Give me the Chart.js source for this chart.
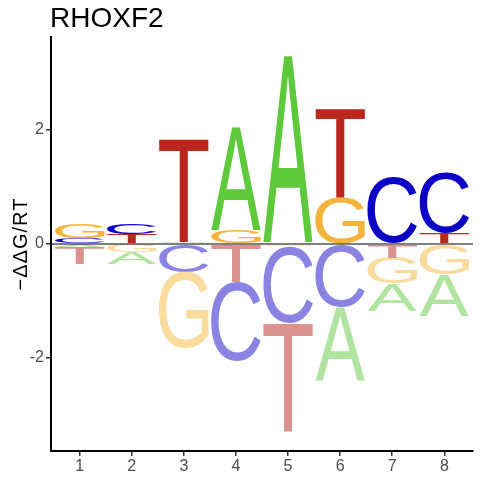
<!DOCTYPE html>
<html><head><meta charset="utf-8">
<script src="https://cdn.jsdelivr.net/npm/chart.js@4.4.1/dist/chart.umd.min.js"></script>
<style>html,body{margin:0;padding:0;background:#fff}canvas{display:block}</style>
</head><body>
<canvas id="c" width="480" height="480"></canvas>
<script>
const chartTitle = 'RHOXF2';
const yTitle = '\u2212\u0394\u0394G/RT';
const positions = [1, 2, 3, 4, 5, 6, 7, 8];
const letters = ['A', 'C', 'G', 'T'];
const valA = [-0.06, -0.21, 0.03, 1.81, 3.30, -1.29, -0.48, -0.72];
const valC = [0.10, 0.19, -0.50, -1.38, -1.35, -1.10, 1.17, 1.07];
const valG = [0.25, -0.15, -1.33, 0.24, -0.04, 0.83, -0.45, -0.54];
const valT = [-0.29, 0.17, 1.80, -0.67, -1.91, 1.56, -0.24, 0.19];
const yTicks = [-2, 0, 2];
const posColors = {A: '#5DC93B', C: '#0C00C6', G: '#F5B33B', T: '#B9271E'};
const negColors = {A: '#B1E4A0', C: '#8B83E2', G: '#F9DB9E', T: '#DA938E'};

const vals = {A: valA, C: valC, G: valG, T: valT};
const ranges = {A: [], C: [], G: [], T: []};
positions.forEach((p, i) => {
  const items = letters.map(L => ({L, v: vals[L][i]}));
  const pos = items.filter(o => o.v >= 0).sort((a, b) => a.v - b.v);
  const neg = items.filter(o => o.v < 0).sort((a, b) => b.v - a.v);
  let acc = 0;
  pos.forEach(o => { ranges[o.L][i] = [acc, acc + o.v]; acc += o.v; });
  acc = 0;
  neg.forEach(o => { ranges[o.L][i] = [acc + o.v, acc]; acc += o.v; });
});

const FONT = '"Liberation Sans", Arial, sans-serif';
Chart.defaults.font.family = FONT;

function drawGlyph(ctx, ch, color, x, y, w, h) {
  ctx.save();
  ctx.font = '200px ' + FONT;
  ctx.textAlign = 'left';
  ctx.textBaseline = 'alphabetic';
  const m = ctx.measureText(ch);
  const gl = m.actualBoundingBoxLeft, gr = m.actualBoundingBoxRight;
  const ga = m.actualBoundingBoxAscent, gd = m.actualBoundingBoxDescent;
  const gw = gl + gr, gh = ga + gd;
  ctx.translate(x, y);
  ctx.scale(w / gw, h / gh);
  ctx.fillStyle = color;
  ctx.fillText(ch, gl, ga);
  ctx.restore();
}

const logoPlugin = {
  id: 'logoLetters',
  afterDatasetsDraw(chart) {
    const ctx = chart.ctx;
    chart.data.datasets.forEach((ds, di) => {
      const meta = chart.getDatasetMeta(di);
      meta.data.forEach((el, i) => {
        const p = el.getProps(['x', 'y', 'base', 'width'], true);
        const top = Math.min(p.y, p.base);
        const h = Math.abs(p.base - p.y);
        if (h <= 0) return;
        const v = ds.values[i];
        const col = v >= 0 ? posColors[ds.letter] : negColors[ds.letter];
        drawGlyph(ctx, ds.letter, col, p.x - p.width / 2, top, p.width, h);
      });
    });
    const ys = chart.scales.y.getPixelForValue(0);
    ctx.save();
    ctx.strokeStyle = '#000';
    ctx.lineWidth = 1;
    ctx.beginPath();
    ctx.moveTo(chart.chartArea.left, ys);
    ctx.lineTo(chart.chartArea.right, ys);
    ctx.stroke();
    ctx.restore();
  },
  afterDraw(chart) {
    const ctx = chart.ctx;
    const ca = chart.chartArea;
    ctx.save();
    ctx.fillStyle = '#000';
    ctx.font = '28px ' + FONT;
    ctx.textAlign = 'left';
    ctx.textBaseline = 'alphabetic';
    ctx.fillText(chartTitle, ca.left - 1, 27);
    ctx.translate(27, (ca.top + ca.bottom) / 2);
    ctx.rotate(-Math.PI / 2);
    ctx.font = '20px ' + FONT;
    ctx.letterSpacing = '1px';
    ctx.textAlign = 'center';
    ctx.fillText(yTitle, 0, 0);
    ctx.restore();
  }
};

const datasets = letters.map(L => ({
  label: L,
  letter: L,
  values: vals[L],
  data: positions.map((p, i) => ({x: p, y: ranges[L][i]})),
  backgroundColor: 'rgba(0,0,0,0)',
  borderWidth: 0,
  grouped: false,
  categoryPercentage: 1,
  barPercentage: 0.95
}));

const axisCommon = {
  grid: {drawOnChartArea: false, drawTicks: true, tickLength: 5, color: '#333333', lineWidth: 1.5, offset: false},
  border: {display: true, color: '#000000', width: 2}
};

new Chart(document.getElementById('c'), {
  type: 'bar',
  data: {datasets},
  options: {
    responsive: false,
    animation: false,
    layout: {padding: {top: 37, right: 7, left: 0, bottom: 0}},
    plugins: {legend: {display: false}, tooltip: {enabled: false}, title: {display: false}},
    scales: {
      x: Object.assign({}, axisCommon, {
        type: 'linear', min: 0.45, max: 8.55, offset: false,
        afterBuildTicks: s => { s.ticks = positions.map(v => ({value: v})); },
        afterFit: s => { s.height = 29; },
        ticks: {color: '#4D4D4D', font: {size: 16}, padding: 1, autoSkip: false, maxRotation: 0, callback: v => String(v)}
      }),
      y: Object.assign({}, axisCommon, {
        type: 'linear', min: -3.63, max: 3.63,
        afterBuildTicks: s => { s.ticks = yTicks.map(v => ({value: v})); },
        afterFit: s => { s.width = 51; },
        ticks: {color: '#4D4D4D', font: {size: 16}, padding: 2, callback: v => String(v)}
      })
    }
  },
  plugins: [logoPlugin]
});
</script>
</body></html>
